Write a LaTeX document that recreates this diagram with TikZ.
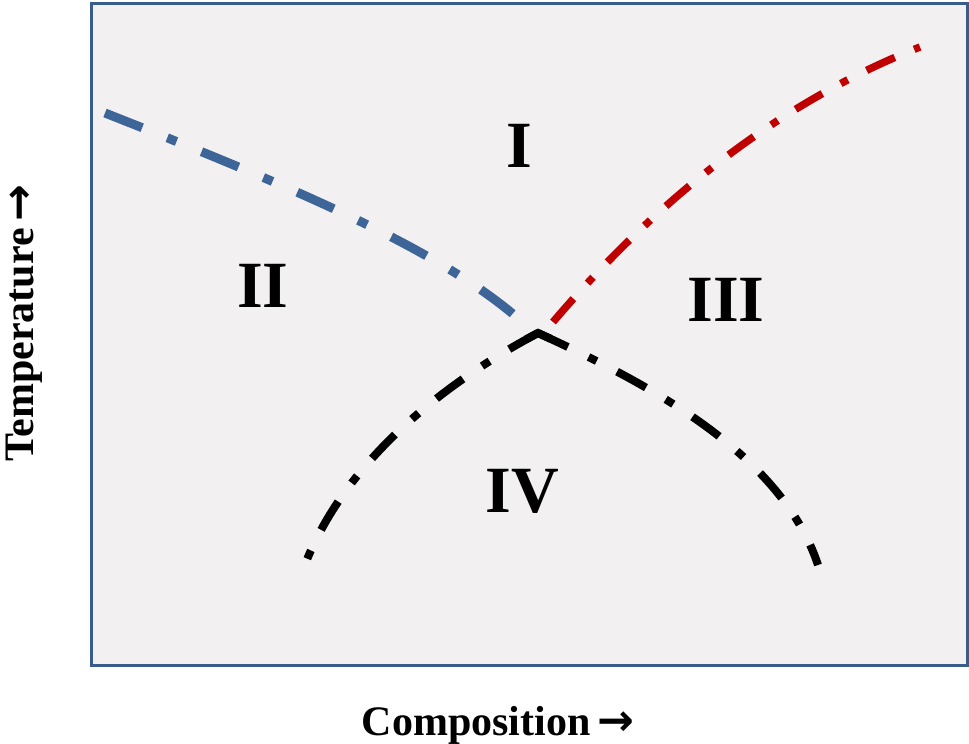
\documentclass[tikz,border=0pt]{standalone}
\usepackage{fontspec}
\setmainfont{Liberation Serif}
\newfontfamily\arrowfont{DejaVu Sans}
\usetikzlibrary{calc}
\definecolor{Frame}{HTML}{385D8A}
\definecolor{Paper}{HTML}{F2F0F1}
\definecolor{Blue}{HTML}{3D6598}
\definecolor{Red}{HTML}{C00000}
\newcommand\rarrow{{\arrowfont\bfseries\fontsize{44}{44}\selectfont →}}

\begin{document}
\begin{tikzpicture}[x=1pt,y=-1pt,
    region/.style={font=\fontsize{66}{66}\selectfont\bfseries,inner sep=0pt},
    axislabel/.style={font=\fontsize{42}{42}\selectfont\bfseries,inner sep=0pt},
    bluebound/.style={Blue,line width=9pt,dash pattern=on 40pt off 27pt on 10pt off 27pt},
    redbound/.style={Red,line width=7.5pt,dash pattern=on 31pt off 21pt on 8pt off 21pt},
    blackbound/.style={black,line width=8pt,dash pattern=on 33pt off 23pt on 9pt off 23pt}]
  \useasboundingbox (0,0) rectangle (969,744);
  % frame
  \draw[Frame,line width=3pt,fill=Paper] (91,3) rectangle (967,665);
  % phase boundaries
  \coordinate (bl) at (105,113);
  \coordinate (bc) at (520,320);
  \coordinate (rc) at (553,322);
  \coordinate (rr) at (920,47);
  \coordinate (pk) at (538,333);
  \coordinate (kl) at (300,578);
  \coordinate (kr) at (818,565);
  \draw[bluebound] (bl) .. controls (300,190) and (440,250) .. (bc);
  \draw[redbound] (rc) .. controls (640,220) and (760,110) .. (rr);
  \draw[blackbound] (pk) .. controls (450,380) and (340,460) .. (kl);
  \draw[blackbound] (pk) .. controls (640,380) and (780,450) .. (kr);
  \draw[black,line width=8pt,line join=miter] ($(pk)!14pt!(450,380)$) -- (pk) -- ($(pk)!14pt!(640,380)$);
  % regions
  \node[region] (one) at (519,146) {I};
  \node[region] (two) at (263,286) {II};
  \node[region] (three) at (726,300) {III};
  \node[region] (four) at (522,491) {IV};
  % axes
  \node[axislabel,anchor=base] (comp) at (498,735) {Composition\,\rarrow};
  \node[axislabel,anchor=base,rotate=90] (temp) at (33,323) {Temperature\,\rarrow};
\end{tikzpicture}
\end{document}
